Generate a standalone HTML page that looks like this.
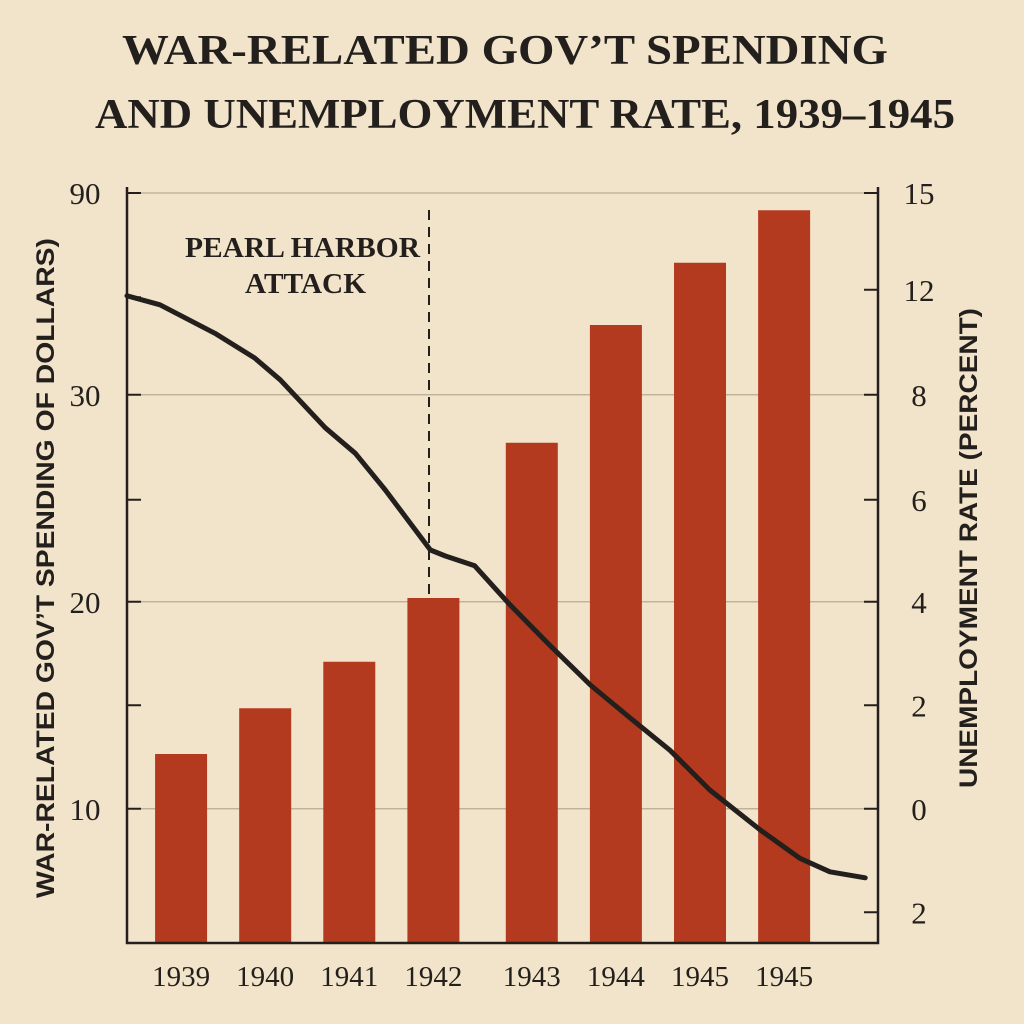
<!DOCTYPE html>
<html><head><meta charset="utf-8"><style>
html,body{margin:0;padding:0;background:#f2e4ca;}
svg{display:block}
.t{font-family:"Liberation Serif",serif;fill:#231f1c}
</style></head><body>
<svg width="1024" height="1024" viewBox="0 0 1024 1024">
<rect width="1024" height="1024" fill="#f2e4ca"/>
<text class="t" x="122" y="64" textLength="766" lengthAdjust="spacingAndGlyphs" font-size="42" font-weight="bold">WAR-RELATED GOV’T SPENDING</text>
<text class="t" x="95" y="128" textLength="860" lengthAdjust="spacingAndGlyphs" font-size="42" font-weight="bold">AND UNEMPLOYMENT RATE, 1939–1945</text>
<g id="grid"></g><g id="bars"></g><g id="axes"></g><g id="line"></g>
<line x1="429" y1="210" x2="429" y2="595" stroke="#231f1c" stroke-width="2" stroke-dasharray="10,7"/>
<text class="t" x="185" y="257" textLength="235" lengthAdjust="spacingAndGlyphs" font-size="29" font-weight="bold">PEARL HARBOR</text>
<text class="t" x="245" y="293" textLength="121" lengthAdjust="spacingAndGlyphs" font-size="29" font-weight="bold">ATTACK</text>
<text x="54" y="568" transform="rotate(-90 54 568)" text-anchor="middle" textLength="660" lengthAdjust="spacingAndGlyphs" font-family="Liberation Sans,sans-serif" font-weight="bold" font-size="25" fill="#231f1c">WAR-RELATED GOV’T SPENDING OF DOLLARS)</text>
<text x="977" y="548" transform="rotate(-90 977 548)" text-anchor="middle" textLength="480" lengthAdjust="spacingAndGlyphs" font-family="Liberation Sans,sans-serif" font-weight="bold" font-size="25" fill="#231f1c">UNEMPLOYMENT RATE (PERCENT)</text>
</svg>
<script>
const categories=["1939","1940","1941","1942","1943","1944","1945","1945"];
const catPos=[7.2,18.4,29.6,40.8,53.9,65.1,76.3,87.5];
const spending=[25.2,31.3,37.5,46,66.7,82.4,90.7,97.7];
const leftTickVals=[100,86.1,73.1,59.1,45.5,31.7,17.9];
const leftTickLabels=["90","","30","","20","","10"];
const rightTickVals=[100,87.1,73.1,59.1,45.5,31.7,17.9,4.1];
const rightTickLabels=["15","12","8","6","4","2","0","2"];
const lineX=[0,4.4,11.7,17,20.4,26.4,30.4,34.4,40.4,42.4,46.3,51,56.3,61.7,67,72.3,77.6,84.3,89.6,93.6,98.3];
const lineY=[86.3,85.1,81.3,78,75.1,68.7,65.3,60.4,52.4,51.6,50.3,45.1,39.7,34.4,30,25.7,20.4,15.1,11.3,9.5,8.7];
const X0=127,X1=878,Y0=943,Y1=193;
const xs=v=>X0+(X1-X0)*v/100, ys=v=>Y0-(Y0-Y1)*v/100;
const NS="http://www.w3.org/2000/svg";
function mk(p,tag,a){const e=document.createElementNS(NS,tag);for(const k in a)e.setAttribute(k,a[k]);document.getElementById(p).appendChild(e);return e;}
leftTickVals.forEach((v,i)=>{if(leftTickLabels[i]!==""){const g=mk("grid","line",{x1:X0,x2:X1,y1:ys(v),y2:ys(v),stroke:"#b8aa92","stroke-width":1.3});

}});
spending.forEach((v,i)=>{const r=mk("bars","rect",{x:xs(catPos[i])-26,y:ys(v),width:52,height:Y0-ys(v),fill:"#b43a1f"});


const t=mk("axes","text",{x:xs(catPos[i]),y:986,"text-anchor":"middle","font-size":29,class:"t"});t.textContent=categories[i];

});
let a=mk("axes","path",{d:`M${X0},${Y1-6}V${Y0}H${X1}V${Y1-6}`,fill:"none",stroke:"#231f1c","stroke-width":2.5});


leftTickVals.forEach((v,i)=>{const l=mk("axes","line",{x1:X0,x2:X0+14,y1:ys(v),y2:ys(v),stroke:"#231f1c","stroke-width":2});


if(leftTickLabels[i]){const t=mk("axes","text",{x:85,y:ys(v)+11,"text-anchor":"middle","font-size":31,class:"t"});t.textContent=leftTickLabels[i];

}});
rightTickVals.forEach((v,i)=>{const l=mk("axes","line",{x1:X1-14,x2:X1,y1:ys(v),y2:ys(v),stroke:"#231f1c","stroke-width":2});


const t=mk("axes","text",{x:919,y:ys(v)+11,"text-anchor":"middle","font-size":31,class:"t"});t.textContent=rightTickLabels[i];

});
const d=lineX.map((x,i)=>(i?"L":"M")+xs(x).toFixed(1)+","+ys(lineY[i]).toFixed(1)).join("");
const p=mk("line","path",{d:d,fill:"none",stroke:"#231f1c","stroke-width":5,"stroke-linejoin":"round","stroke-linecap":"round"});


</script>
</body></html>
